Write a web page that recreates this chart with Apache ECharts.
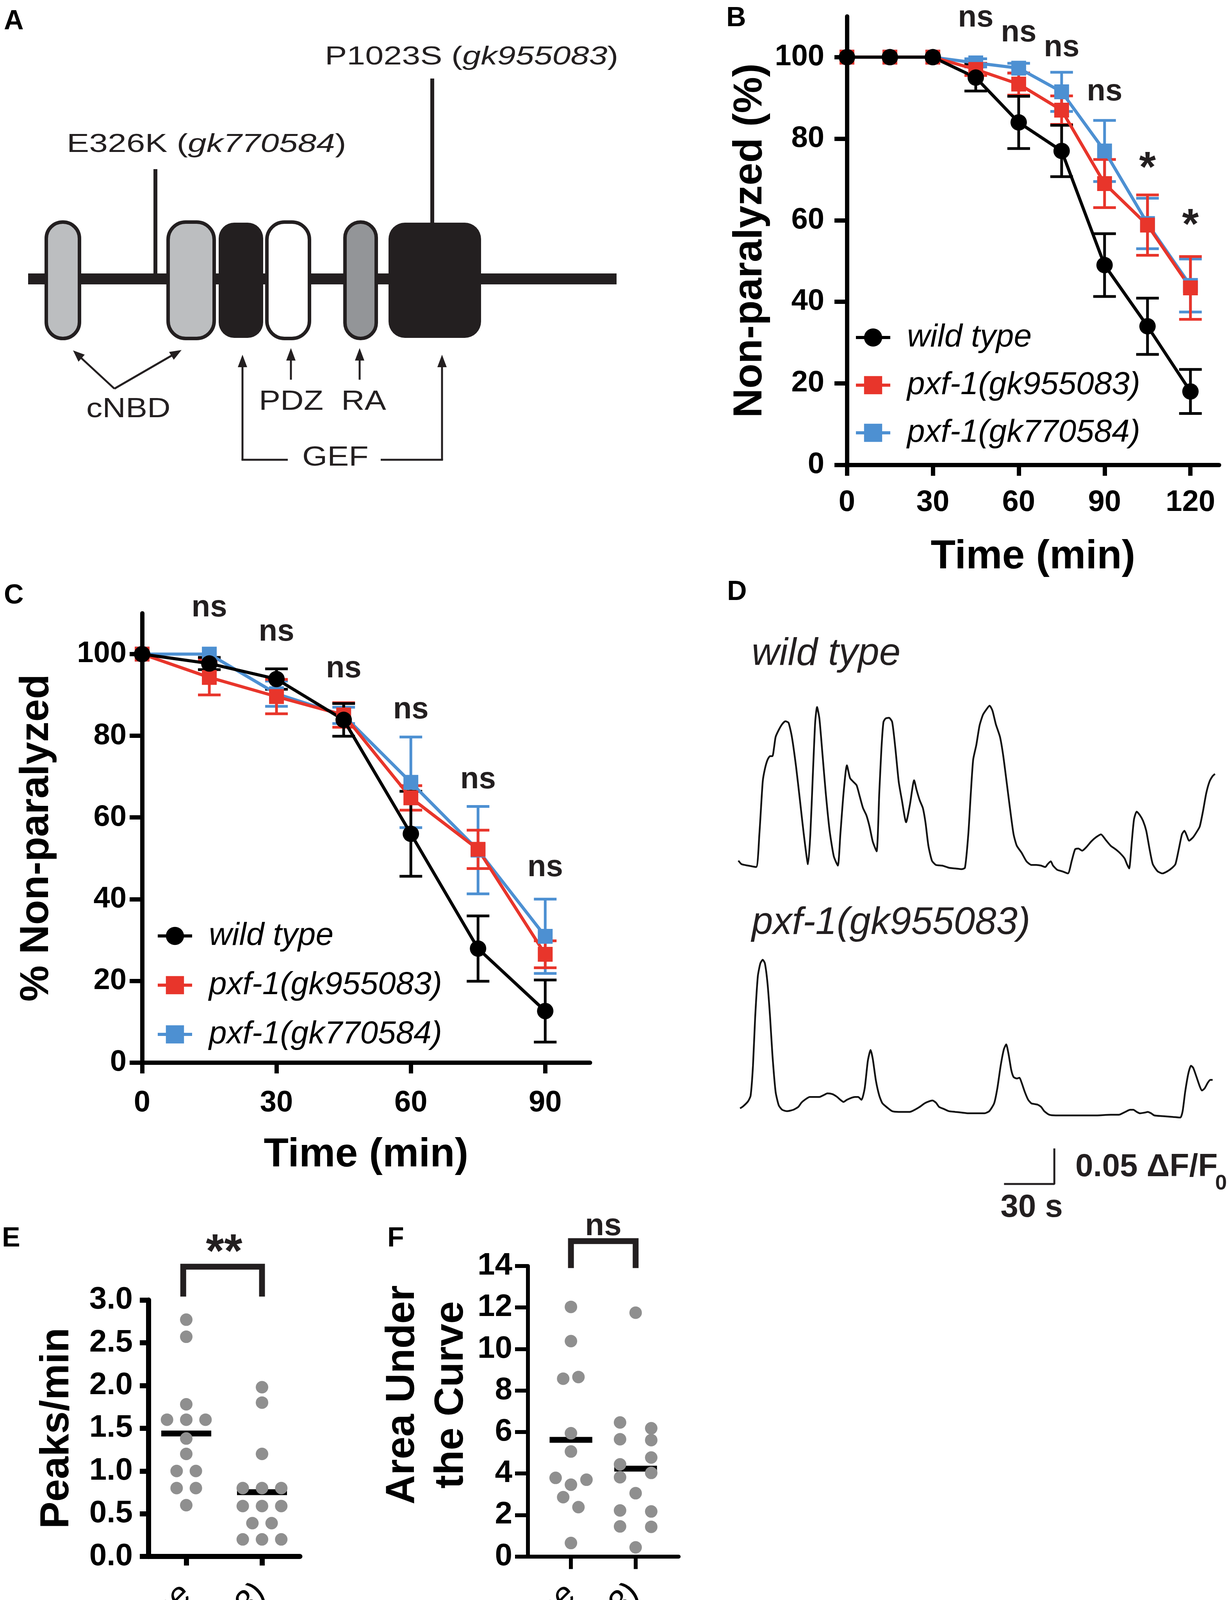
<!DOCTYPE html>
<html>
<head>
<meta charset="utf-8">
<script src="https://cdn.jsdelivr.net/npm/echarts@6/dist/echarts.min.js"></script>
<style>
html, body { margin: 0; padding: 0; background: #fff; }
#fig { width: 3150px; height: 4556px; }
</style>
</head>
<body>
<div id="fig"></div>
<script>
// ---- data ----
var strains = ['wild type', 'pxf-1(gk955083)', 'pxf-1(gk770584)'];
var groups = ['wild type', 'pxf-1(gk955083)'];

// B: paralysis time course, 0-120 min
var bTime = [0, 15, 30, 45, 60, 75, 90, 105, 120];
var bWild = [100, 100, 100, 95, 84, 77, 49, 34, 18];
var bWildErr = [0, 0, 0, 3.3, 6.4, 6.3, 7.7, 6.9, 5.4];
var bRed = [100, 100, 100, 97, 93.4, 87, 69, 58.8, 43.4];
var bRedErr = [0, 0, 0, 1.5, 2.7, 3.5, 5.9, 7.4, 7.7];
var bBlue = [100, 100, 100, 98.6, 97.3, 91.5, 77, 59.2, 44];
var bBlueErr = [0, 0, 0, 1, 1.2, 4.8, 7.5, 6.2, 6.5];
var bSigX = [45, 60, 75, 90, 105, 120];
var bSigY = [109.6, 105.9, 102.3, 91.5, 72.5, 58.5];
var bSigText = ['ns', 'ns', 'ns', 'ns', '*', '*'];

// C: 0-90 min
var cTime = [0, 15, 30, 45, 60, 75, 90];
var cWild = [100, 97.7, 93.9, 83.9, 56, 27.9, 12.6];
var cWildErr = [0, 1.5, 2.5, 4, 10.4, 8, 7.6];
var cRed = [100, 94.3, 89.6, 85.1, 64.8, 52.2, 26.5];
var cRedErr = [0, 4.3, 4.2, 3, 3, 4.7, 3.3];
var cBlue = [100, 100, 90.3, 85, 68.6, 52, 30.9];
var cBlueErr = [0, 0, 3.1, 2, 11.1, 10.7, 9.1];
var cSigX = [15, 30, 45, 60, 75, 90];
var cSigY = [111.3, 105.4, 96.4, 86.3, 69.2, 47.7];
var cSigText = ['ns', 'ns', 'ns', 'ns', 'ns', 'ns'];

// D: calcium traces, time in s and dF/F0
var wtT = [0,1.9,5.8,10.6,12.5,14.5,15.8,17.4,18.9,20.3,21.2,22.2,24.1,26.1,28.0,29.9,31.9,34.4,36.7,39.0,41.5,42.9,44.4,45.8,46.9,48.3,50.2,52.1,54.4,56.9,59.3,60.8,62.7,64.7,66.6,68.5,70.5,72.4,74.3,76.3,78.2,80.1,82.4,84.0,85.3,86.5,87.8,89.8,91.7,93.6,95.6,97.5,100.0,102.3,104.8,106.2,108.1,110.0,111.6,113.3,115.4,117.8,121.6,125.5,129.3,133.2,135.1,137.1,138.6,140.0,141.9,143.8,145.8,147.7,149.8,151.5,153.5,156.0,157.9,160.2,162.2,164.1,166.0,168.9,171.8,174.7,177.6,180.5,183.0,184.4,186.3,187.6,190.2,193.1,196.5,198.8,200.8,202.7,205.0,207.5,210.4,213.3,216.2,219.1,222.0,224.9,227.8,230.3,231.7,233.0,234.6,235.9,237.5,239.4,241.3,243.2,245.2,247.1,250.0,252.9,255.8,258.7,260.6,262.6,264.5,266.0,267.4,268.7,271.2,273.2,275.1,277.0,279.0,280.9,282.8,284.2];
var wtV = [0.018,0.013,0.011,0.009,0.055,0.129,0.147,0.160,0.165,0.165,0.176,0.192,0.202,0.210,0.214,0.212,0.192,0.150,0.103,0.055,0.013,0.055,0.139,0.213,0.234,0.218,0.166,0.113,0.060,0.024,0.011,0.055,0.113,0.152,0.134,0.129,0.124,0.108,0.092,0.082,0.066,0.045,0.031,0.113,0.176,0.213,0.218,0.219,0.213,0.176,0.129,0.103,0.072,0.097,0.131,0.118,0.103,0.092,0.071,0.039,0.018,0.012,0.011,0.008,0.007,0.006,0.008,0.055,0.113,0.160,0.181,0.208,0.223,0.230,0.236,0.229,0.210,0.192,0.166,0.124,0.087,0.055,0.039,0.029,0.017,0.012,0.012,0.011,0.009,0.013,0.017,0.011,0.005,0.003,0,0.018,0.034,0.035,0.032,0.037,0.045,0.051,0.055,0.047,0.039,0.034,0.028,0.021,0.013,0.007,0.045,0.076,0.087,0.082,0.074,0.060,0.034,0.013,0.003,0,0.003,0.008,0.013,0.034,0.055,0.060,0.053,0.046,0.051,0.058,0.066,0.087,0.113,0.129,0.137,0.140];
var mutT = [1.0,2.9,5.8,7.3,8.7,10.0,11.6,13.1,14.5,15.8,17.4,18.9,20.3,22.2,24.1,26.1,29.0,32.8,35.7,37.6,39.6,42.5,45.4,48.3,51.2,53.1,56.0,58.9,60.8,62.7,64.7,67.6,69.5,71.4,73.4,75.3,77.2,78.8,80.1,82.0,84.0,85.9,88.8,91.7,95.6,99.4,102.3,105.2,108.1,111.0,113.9,115.8,117.8,119.7,122.6,125.5,129.3,133.2,137.1,142.9,146.7,149.6,152.5,154.4,156.4,158.3,159.7,161.2,162.7,164.1,166.0,167.6,168.9,170.8,172.8,174.7,176.6,178.6,180.5,182.4,185.3,189.2,195.0,202.7,212.4,222.0,226.8,230.7,233.6,235.5,237.5,239.4,242.3,244.2,246.1,248.1,252.9,258.7,263.5,264.9,266.4,268.3,269.9,271.2,273.2,275.1,276.4,278.0,279.9,281.4,282.8];
var mutV = [0.013,0.016,0.023,0.031,0.073,0.141,0.199,0.217,0.222,0.217,0.188,0.141,0.088,0.036,0.017,0.011,0.009,0.011,0.015,0.021,0.025,0.029,0.029,0.029,0.032,0.034,0.033,0.029,0.025,0.022,0.025,0.028,0.029,0.029,0.025,0.041,0.080,0.095,0.083,0.052,0.031,0.020,0.014,0.009,0.008,0.008,0.008,0.011,0.015,0.020,0.023,0.024,0.021,0.015,0.012,0.009,0.008,0.007,0.006,0.006,0.006,0.009,0.020,0.041,0.073,0.096,0.103,0.088,0.067,0.057,0.055,0.056,0.049,0.036,0.025,0.020,0.019,0.018,0.015,0.009,0.004,0.003,0.003,0.003,0.003,0.004,0.004,0.008,0.011,0.011,0.008,0.006,0.007,0.008,0.006,0.003,0.002,0.001,0,0.009,0.036,0.062,0.073,0.070,0.057,0.044,0.038,0.041,0.049,0.053,0.053];
var barT = [158.4, 188.4, 188.4];   // 30 s
var barV = [0, 0, 0.05];            // 0.05 dF/F0

// E: peaks per minute (x = jitter around the group)
var eWildJit = [0, 0, 0, -0.254, 0, 0.254, 0, 0, -0.127, 0.127, -0.127, 0.127, 0];
var eWild = [2.77, 2.57, 1.78, 1.6, 1.6, 1.6, 1.38, 1.2, 1.0, 1.0, 0.8, 0.8, 0.6];
var eMutJit = [0, 0, 0, -0.254, 0, 0.254, -0.254, 0, 0.254, -0.127, 0.127, -0.254, 0, 0.254];
var eMut = [1.98, 1.8, 1.2, 0.8, 0.8, 0.8, 0.59, 0.59, 0.59, 0.39, 0.39, 0.2, 0.2, 0.2];
var eBracketX = [-0.04, -0.04, 1, 1];
var eBracketY = [3.04, 3.39, 3.39, 3.04];
var eSig = [[0.5, 3.54, '**']];

// F: area under the curve
var fWildJit = [0, 0, -0.12, 0.116, 0, 0, -0.237, 0.24, 0, -0.12, 0.116, 0];
var fWild = [12.03, 10.38, 8.57, 8.65, 5.94, 5.06, 3.79, 3.70, 3.46, 2.86, 2.38, 0.65];
var fMutJit = [0, -0.241, 0.241, -0.241, 0.241, 0.241, -0.241, 0.241, -0.241, 0, -0.241, 0.241, -0.241, 0.241, 0];
var fMut = [11.75, 6.46, 6.18, 5.65, 5.61, 4.77, 4.44, 4.03, 3.82, 3.05, 2.22, 2.17, 1.45, 1.43, 0.44];
var fBracketX = [0, 0, 1, 1];
var fBracketY = [13.9, 15.2, 15.2, 13.9];
var fSig = [[0.5, 15.9, 'ns']];

// ---- styles ----
var FONT = "'Liberation Sans', Arial, Helvetica, sans-serif";
var RED = '#e8352b', BLUE = '#4d90d2', INK = '#231f20', DOT = '#8f8f8f';

function zip(a, b) { return a.map(function (v, i) { return [v, b[i]]; }); }
function zip3(a, b, c) { return a.map(function (v, i) { return [v, b[i], c[i]]; }); }
function mean(a) { return a.reduce(function (s, v) { return s + v; }, 0) / a.length; }
function font(size, weight, style) { return (style || 'normal') + ' ' + (weight || 'normal') + ' ' + size + 'px ' + FONT; }

function errBars(g, xs, ys, es, color) {
    return {
        type: 'custom', xAxisIndex: g, yAxisIndex: g, silent: true, data: zip3(xs, ys, es),
        renderItem: function (params, api) {
            var x = api.value(0), y = api.value(1), e = api.value(2);
            if (!e) return null;
            var t = api.coord([x, y + e]), b = api.coord([x, y - e]);
            var s = { stroke: color, lineWidth: 7 };
            return {
                type: 'group', children: [
                    { type: 'line', shape: { x1: t[0], y1: t[1], x2: b[0], y2: b[1] }, style: s },
                    { type: 'line', shape: { x1: t[0] - 29, y1: t[1], x2: t[0] + 29, y2: t[1] }, style: s },
                    { type: 'line', shape: { x1: b[0] - 29, y1: b[1], x2: b[0] + 29, y2: b[1] }, style: s }
                ]
            };
        }
    };
}

function curve(g, name, xs, ys, color, symbol, size) {
    return {
        type: 'line', name: name, xAxisIndex: g, yAxisIndex: g, data: zip(xs, ys),
        symbol: symbol, symbolSize: size, showAllSymbol: true, silent: true,
        lineStyle: { color: color, width: 8 }, itemStyle: { color: color }
    };
}

// text marks placed on the data scale; a row may carry its own font size
function texts(g, rows, size) {
    return {
        type: 'custom', xAxisIndex: g, yAxisIndex: g, silent: true, data: rows,
        renderItem: function (params, api) {
            var row = rows[params.dataIndex];
            var p = api.coord([api.value(0), api.value(1)]);
            return {
                type: 'text', x: p[0], y: p[1],
                style: {
                    text: row[2], font: font(row[3] || size, 'bold'), fill: INK,
                    align: 'center', verticalAlign: 'middle', textAlign: 'center', textVerticalAlign: 'middle'
                }
            };
        }
    };
}

function dots(g, center, jit, vals) {
    return {
        type: 'scatter', xAxisIndex: g, yAxisIndex: g, silent: true, symbolSize: 32,
        itemStyle: { color: DOT, opacity: 1 },
        data: vals.map(function (v, i) { return [center + jit[i], v]; })
    };
}

function meanBars(g, sets) {
    return {
        type: 'custom', xAxisIndex: g, yAxisIndex: g, silent: true,
        data: sets.map(function (s, i) { return [i, mean(s)]; }),
        renderItem: function (params, api) {
            var a = api.coord([api.value(0) - 0.33, api.value(1)]);
            var b = api.coord([api.value(0) + 0.33, api.value(1)]);
            return { type: 'line', shape: { x1: a[0], y1: a[1], x2: b[0], y2: b[1] }, style: { stroke: '#000', lineWidth: 15 } };
        }
    };
}

function bracket(g, xs, ys) {
    return {
        type: 'line', xAxisIndex: g, yAxisIndex: g, data: zip(xs, ys), symbol: 'none', clip: false, silent: true,
        lineStyle: { color: INK, width: 15, join: 'miter' }
    };
}

var labelBase = { color: '#000', fontFamily: FONT, fontWeight: 'bold' };
function ext(a, b) { var o = {}; for (var k in a) o[k] = a[k]; for (var j in b) o[j] = b[j]; return o; }

function timeAxis(g, max, ticks, margin, gap) {
    return {
        gridIndex: g, type: 'value', min: 0, max: max,
        axisLine: { onZero: false, lineStyle: { color: '#000', width: 11 } },
        axisTick: { customValues: ticks, length: 28, lineStyle: { color: '#000', width: 11 } },
        axisLabel: ext(labelBase, { customValues: ticks, margin: margin, fontSize: 76 }),
        splitLine: { show: false },
        name: 'Time (min)', nameLocation: 'middle', nameGap: gap,
        nameTextStyle: ext(labelBase, { fontSize: 104 })
    };
}
function pctAxis(g, name, margin, gap) {
    var t = [0, 20, 40, 60, 80, 100];
    return {
        gridIndex: g, type: 'value', min: 0, max: 110,
        axisLine: { show: true, onZero: false, lineStyle: { color: '#000', width: 11 } },
        axisTick: { show: true, customValues: t, length: 32, lineStyle: { color: '#000', width: 11 } },
        axisLabel: ext(labelBase, { customValues: t, margin: margin, fontSize: 76 }),
        splitLine: { show: false },
        name: name, nameLocation: 'middle', nameGap: gap,
        nameTextStyle: ext(labelBase, { fontSize: 104 })
    };
}
function groupAxis(g, min, max, width, tick) {
    return {
        gridIndex: g, type: 'value', min: min, max: max,
        axisLine: { onZero: false, lineStyle: { color: '#000', width: width } },
        axisTick: { customValues: [0, 1], length: tick, lineStyle: { color: '#000', width: width } },
        axisLabel: {
            customValues: [0, 1], rotate: 45, margin: 85, fontSize: 88, fontStyle: 'italic',
            color: '#000', fontFamily: FONT,
            formatter: function (v) { return groups[Math.round(v)]; }
        },
        splitLine: { show: false }
    };
}
function dotAxis(g, max, step, digits, name, gap, width, tick, nameExtra) {
    return {
        gridIndex: g, type: 'value', min: 0, max: max, interval: step,
        axisLine: { show: true, onZero: false, lineStyle: { color: '#000', width: width } },
        axisTick: { show: true, length: tick, lineStyle: { color: '#000', width: width } },
        axisLabel: ext(labelBase, { margin: 40, fontSize: 80, formatter: function (v) { return v.toFixed(digits); } }),
        splitLine: { show: false },
        name: name, nameLocation: 'middle', nameGap: gap,
        nameTextStyle: ext(labelBase, ext({ fontSize: 104 }, nameExtra || {}))
    };
}
function hidden(g, min, max) { return { gridIndex: g, type: 'value', min: min, max: max, show: false }; }

function legendAt(left, top, gap) {
    return {
        data: strains, orient: 'vertical', left: left, top: top, selectedMode: false, padding: 0,
        itemWidth: 88, itemHeight: 58, itemGap: gap,
        lineStyle: { width: 8 },
        textStyle: { fontSize: 82, fontStyle: 'italic', fontFamily: FONT, color: '#000', lineHeight: 82, padding: [0, 0, 0, 38] }
    };
}

// ---- panel A schematic and free text ----
function gtext(str, x, y, f, opts) {
    opts = opts || {};
    return {
        type: 'text', x: x, y: y, scaleX: opts.sx || 1, silent: true,
        style: {
            text: str, font: f, fill: opts.fill || INK, rich: opts.rich,
            align: opts.align || 'left', verticalAlign: 'middle',
            textAlign: opts.align || 'left', textVerticalAlign: 'middle'
        }
    };
}
function seg(x1, y1, x2, y2, w) {
    return { type: 'line', silent: true, shape: { x1: x1, y1: y1, x2: x2, y2: y2 }, style: { stroke: INK, lineWidth: w || 5 } };
}
function head(pts) { return { type: 'polygon', silent: true, shape: { points: pts }, style: { fill: INK } }; }
function upHead(x, y) { return head([[x, y], [x - 12, y + 32], [x + 12, y + 32]]); }
function box(x, y, w, h, r, fill, stroke) {
    var s = { fill: fill };
    if (stroke) { s.stroke = INK; s.lineWidth = 9; }
    return { type: 'rect', silent: true, shape: { x: x, y: y, width: w, height: h, r: r }, style: s };
}
var mixRich = {
    n: { fontSize: 66, fontFamily: FONT, fill: INK },
    i: { fontSize: 66, fontFamily: FONT, fontStyle: 'italic', fill: INK }
};
var letter = font(70, 'bold');

var graphics = [
    // panel letters
    gtext('A', 10, 56, letter, { fill: '#000' }),
    gtext('B', 1860, 48, letter, { fill: '#000' }),
    gtext('C', 10, 1526, letter, { fill: '#000' }),
    gtext('D', 1862, 1517, letter, { fill: '#000' }),
    gtext('E', 5, 3172, letter, { fill: '#000' }),
    gtext('F', 992, 3172, letter, { fill: '#000' }),

    // A: backbone, mutation ticks and domains
    { type: 'rect', silent: true, shape: { x: 72, y: 700, width: 1507, height: 28 }, style: { fill: INK } },
    seg(398, 433, 398, 705, 10),
    seg(1107, 201, 1107, 575, 10),
    box(118.5, 568.5, 85, 298, 42, '#bcbec0', true),
    box(430.5, 568.5, 118, 298, 45, '#bcbec0', true),
    box(560, 570, 114, 295, 40, INK),
    box(683.5, 568.5, 109, 298, 45, '#ffffff', true),
    box(883.5, 568.5, 80, 298, 40, '#939598', true),
    box(995, 570, 237, 295, 42, INK),
    gtext('{n|E326K (}{i|gk770584}{n|)}', 171, 371, font(66), { rich: mixRich, sx: 1.3 }),
    gtext('{n|P1023S (}{i|gk955083}{n|)}', 832, 147, font(66), { rich: mixRich, sx: 1.28 }),
    // cNBD arrows
    seg(293, 995, 201, 910), seg(293, 995, 447, 906),
    head([[187, 897], [217, 908], [201, 926]]),
    head([[465, 896], [445, 921], [433, 901]]),
    gtext('cNBD', 221, 1049, font(70), { sx: 1.18 }),
    // PDZ / RA arrows
    seg(745, 972, 745, 910), upHead(745, 891),
    seg(921, 972, 921, 910), upHead(921, 891),
    gtext('PDZ', 663, 1030, font(70), { sx: 1.18 }),
    gtext('RA', 874, 1030, font(70), { sx: 1.18 }),
    // GEF bracket
    seg(621, 1177, 621, 925), upHead(621, 908),
    seg(1132, 1177, 1132, 925), upHead(1132, 908),
    seg(618.5, 1177, 737, 1177), seg(975, 1177, 1134.5, 1177),
    gtext('GEF', 774, 1173, font(70), { sx: 1.18 }),

    // D labels and scale bar text
    gtext('wild type', 1925, 1675, font(98, 'normal', 'italic')),
    gtext('pxf-1(gk955083)', 1925, 2364, font(98, 'normal', 'italic')),
    gtext('0.05 \u0394F/F', 2754, 2988, font(82, 'bold')),
    gtext('0', 3112, 3030, font(54, 'bold')),
    gtext('30 s', 2642, 3092, font(82, 'bold'), { align: 'center' })
];

var option = {
    animation: false,
    backgroundColor: '#ffffff',
    grid: [
        { left: 2169, top: 42, width: 953, height: 1148 },    // B
        { left: 364, top: 1570, width: 1147, height: 1150 },  // C
        { left: 1891, top: 1781, width: 1224, height: 455 },  // D wild type
        { left: 1891, top: 2406, width: 1224, height: 455 },  // D pxf-1
        { left: 1891, top: 2940, width: 1224, height: 91 },   // D scale bar
        { left: 380, top: 3328, width: 388, height: 681 },    // E
        { left: 1352, top: 3241, width: 386, height: 759 }    // F
    ],
    xAxis: [
        timeAxis(0, 130, [0, 30, 60, 90, 120], 59, 184),
        timeAxis(1, 100, [0, 30, 60, 90], 66, 185),
        hidden(2, 0, 285), hidden(3, 0, 285), hidden(4, 0, 285),
        groupAxis(5, -0.5, 1.5, 13, 23),
        groupAxis(6, -0.665, 1.665, 10, 32)
    ],
    yAxis: [
        pctAxis(0, 'Non-paralyzed (%)', 58, 196),
        pctAxis(1, '% Non-paralyzed', 40, 218),
        hidden(2, 0, 0.25), hidden(3, 0, 0.25), hidden(4, 0, 0.05),
        dotAxis(5, 3, 0.5, 1, 'Peaks/min', 182, 13, 22),
        dotAxis(6, 14, 2, 0, 'Area Under\nthe Curve', 130, 10, 33, { lineHeight: 125, padding: [0, 0, 0, 84] })
    ],
    legend: [legendAt(2188, 823, 40), legendAt(400, 2355, 44)],
    graphic: { elements: graphics },
    series: [
        // B
        errBars(0, bTime, bBlue, bBlueErr, BLUE),
        curve(0, strains[2], bTime, bBlue, BLUE, 'rect', 38),
        errBars(0, bTime, bRed, bRedErr, RED),
        curve(0, strains[1], bTime, bRed, RED, 'rect', 38),
        errBars(0, bTime, bWild, bWildErr, '#000'),
        curve(0, strains[0], bTime, bWild, '#000', 'circle', 42),
        texts(0, bSigX.map(function (x, i) { return [x, bSigY[i], bSigText[i], bSigText[i] === '*' ? 110 : 78]; }), 78),
        // C
        errBars(1, cTime, cBlue, cBlueErr, BLUE),
        curve(1, strains[2], cTime, cBlue, BLUE, 'rect', 38),
        errBars(1, cTime, cRed, cRedErr, RED),
        curve(1, strains[1], cTime, cRed, RED, 'rect', 38),
        errBars(1, cTime, cWild, cWildErr, '#000'),
        curve(1, strains[0], cTime, cWild, '#000', 'circle', 42),
        texts(1, cSigX.map(function (x, i) { return [x, cSigY[i], cSigText[i]]; }), 78),
        // D
        { type: 'line', xAxisIndex: 2, yAxisIndex: 2, data: zip(wtT, wtV), symbol: 'none', smooth: 0.2, silent: true, lineStyle: { color: '#111', width: 4.5 } },
        { type: 'line', xAxisIndex: 3, yAxisIndex: 3, data: zip(mutT, mutV), symbol: 'none', smooth: 0.2, silent: true, lineStyle: { color: '#111', width: 4.5 } },
        { type: 'line', xAxisIndex: 4, yAxisIndex: 4, data: zip(barT, barV), symbol: 'none', silent: true, clip: false, lineStyle: { color: INK, width: 5 } },
        // E
        dots(5, 0, eWildJit, eWild),
        dots(5, 1, eMutJit, eMut),
        meanBars(5, [eWild, eMut]),
        bracket(5, eBracketX, eBracketY),
        texts(5, eSig, 120),
        // F
        dots(6, 0, fWildJit, fWild),
        dots(6, 1, fMutJit, fMut),
        meanBars(6, [fWild, fMut]),
        bracket(6, fBracketX, fBracketY),
        texts(6, fSig, 80)
    ]
};

var chart = echarts.init(document.getElementById('fig'));
chart.setOption(option);
</script>
</body>
</html>
